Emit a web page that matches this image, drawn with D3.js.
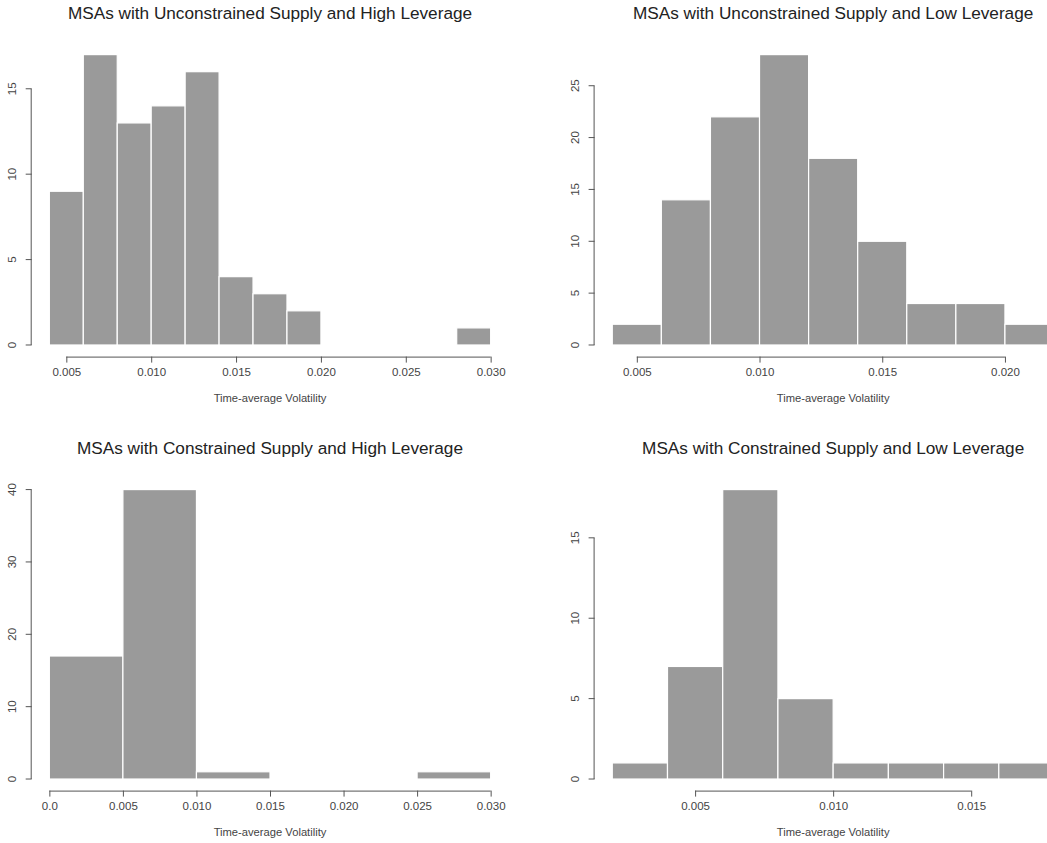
<!DOCTYPE html>
<html>
<head>
<meta charset="utf-8">
<script src="https://cdn.jsdelivr.net/npm/d3@7"></script>
<style>
  body { margin: 0; background: #fff; overflow: hidden; }
  svg { display: block; font-family: "Liberation Sans", Arial, sans-serif; }
</style>
</head>
<body>
<div id="container"></div>
<script>
const W = 1047, H = 843;

// panel titles
const titles = [
  'MSAs with Unconstrained Supply and High Leverage',
  'MSAs with Unconstrained Supply and Low Leverage',
  'MSAs with Constrained Supply and High Leverage',
  'MSAs with Constrained Supply and Low Leverage'
];
const xTitle = 'Time-average Volatility';

// histogram bin edges and counts
const uhBreaks = [0.004, 0.006, 0.008, 0.010, 0.012, 0.014, 0.016, 0.018, 0.020, 0.022, 0.024, 0.026, 0.028, 0.030];
const uhCounts = [9, 17, 13, 14, 16, 4, 3, 2, 0, 0, 0, 0, 1];

const ulBreaks = [0.004, 0.006, 0.008, 0.010, 0.012, 0.014, 0.016, 0.018, 0.020, 0.022];
const ulCounts = [2, 14, 22, 28, 18, 10, 4, 4, 2];

const chBreaks = [0.000, 0.005, 0.010, 0.015, 0.020, 0.025, 0.030];
const chCounts = [17, 40, 1, 0, 0, 1];

const clBreaks = [0.002, 0.004, 0.006, 0.008, 0.010, 0.012, 0.014, 0.016, 0.018];
const clCounts = [1, 7, 18, 5, 1, 1, 1, 1];

// axis ticks
const uhXTicks = [0.005, 0.010, 0.015, 0.020, 0.025, 0.030];
const uhYTicks = [0, 5, 10, 15];
const ulXTicks = [0.005, 0.010, 0.015, 0.020];
const ulYTicks = [0, 5, 10, 15, 20, 25];
const chXTicks = [0.000, 0.005, 0.010, 0.015, 0.020, 0.025, 0.030];
const chYTicks = [0, 10, 20, 30, 40];
const clXTicks = [0.005, 0.010, 0.015];
const clYTicks = [0, 5, 10, 15];

const fmtX = v => v === 0 ? '0.0' : d3.format('.3f')(v);

const svg = d3.select('#container').append('svg')
  .attr('width', W).attr('height', H)
  .attr('viewBox', [0, 0, W, H]);

// plot regions (R-like layout, the right column is cut off by the image edge)
const cols = [[31.7, 508.3], [594.6, 1071.7]];
const rows = [[43, 356.6], [478, 790.6]];

const panels = [
  { title: titles[0], breaks: uhBreaks, counts: uhCounts, xt: uhXTicks, yt: uhYTicks, col: 0, row: 0 },
  { title: titles[1], breaks: ulBreaks, counts: ulCounts, xt: ulXTicks, yt: ulYTicks, col: 1, row: 0 },
  { title: titles[2], breaks: chBreaks, counts: chCounts, xt: chXTicks, yt: chYTicks, col: 0, row: 1 },
  { title: titles[3], breaks: clBreaks, counts: clCounts, xt: clXTicks, yt: clYTicks, col: 1, row: 1 }
];

const drawPanel = p => {
  const [x0, x1] = cols[p.col];
  const [y0, y1] = rows[p.row];
  const lo = p.breaks[0], hi = p.breaks[p.breaks.length - 1];
  const pad = (hi - lo) * 0.04;
  const ymax = d3.max(p.counts);

  const x = d3.scaleLinear().domain([lo - pad, hi + pad]).range([x0, x1]);
  const y = d3.scaleLinear().domain([-ymax * 0.04, ymax * 1.04]).range([y1, y0]);

  const g = svg.append('g');

  const bins = p.counts.map((c, i) => ({ a: p.breaks[i], b: p.breaks[i + 1], c })).filter(d => d.c > 0);
  g.selectAll('rect')
    .data(bins)
    .join('rect')
    .attr('x', d => x(d.a))
    .attr('width', d => x(d.b) - x(d.a))
    .attr('y', d => y(d.c))
    .attr('height', d => y(0) - y(d.c))
    .attr('fill', '#9a9a9a')
    .attr('stroke', '#fff')
    .attr('stroke-width', 1.2);

  // x axis, R style: line from first to last tick, ticks outward
  const xa = d3.axisBottom(x).tickValues(p.xt).tickFormat(fmtX).tickSizeOuter(0).tickSizeInner(6).tickPadding(5);
  const gx = g.append('g').attr('transform', `translate(0,${y1})`).call(xa);
  gx.select('.domain').attr('d', `M${x(p.xt[0])},0.5H${x(p.xt[p.xt.length - 1])}`);
  gx.selectAll('path, line').attr('stroke', '#555');
  gx.selectAll('text').attr('fill', '#444').attr('font-size', 11.5).attr('font-family', '"Liberation Sans", Arial, sans-serif');

  const ya = d3.axisLeft(y).tickValues(p.yt).tickSizeOuter(0).tickSizeInner(6).tickPadding(5);
  const gy = g.append('g').attr('transform', `translate(${x0},0)`).call(ya);
  gy.select('.domain').attr('d', `M-0.5,${y(p.yt[0])}V${y(p.yt[p.yt.length - 1])}`);
  gy.selectAll('path, line').attr('stroke', '#555');
  gy.selectAll('text')
    .attr('fill', '#444').attr('font-size', 11.5).attr('font-family', '"Liberation Sans", Arial, sans-serif')
    .attr('text-anchor', 'middle').attr('dy', null).attr('x', null)
    .attr('transform', d => `translate(-18.5,${y(d)}) rotate(-90)`)
    .attr('dominant-baseline', 'middle');
  gy.selectAll('.tick').attr('transform', null);
  gy.selectAll('.tick line').attr('y1', d => y(d)).attr('y2', d => y(d)).attr('x2', -6);

  g.append('text')
    .attr('x', (x0 + x1) / 2).attr('y', y1 + 45)
    .attr('text-anchor', 'middle').attr('font-size', 11.2).attr('fill', '#444')
    .text(xTitle);

  g.append('text')
    .attr('x', (x0 + x1) / 2).attr('y', y0 - 24)
    .attr('text-anchor', 'middle').attr('font-size', 17.2).attr('fill', '#222')
    .text(p.title);
};

panels.forEach(drawPanel);
</script>
</body>
</html>
